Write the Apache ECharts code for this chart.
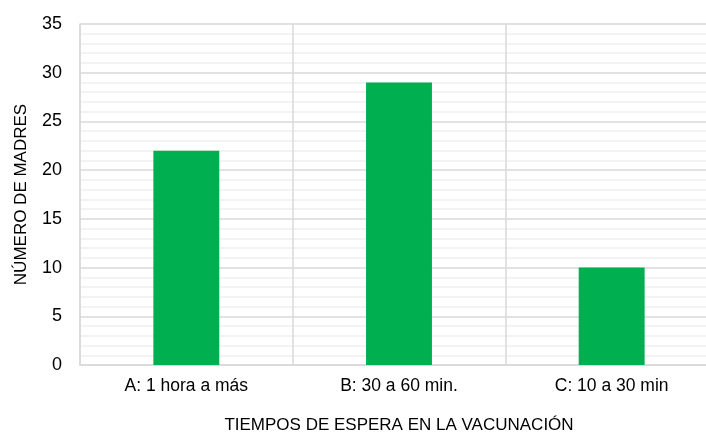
<!DOCTYPE html>
<html>
<head>
<meta charset="utf-8">
<script src="https://cdn.jsdelivr.net/npm/echarts@6/dist/echarts.min.js"></script>
<style>
  html, body { margin: 0; padding: 0; background: #fff; }
  #chart { width: 706px; height: 432px; }
</style>
</head>
<body>
<div id="chart"></div>
<script>
const categorias = ['A: 1 hora a más', 'B: 30 a 60 min.', 'C: 10 a 30 min'];
const madres = [22, 29, 10];

const fuente = '"Liberation Sans", Arial, sans-serif';
const textColor = '#000000';

const chart = echarts.init(document.getElementById('chart'));

const option = {
    animation: false,
    textStyle: { fontFamily: fuente, color: textColor },
    grid: { left: 80, right: -12, top: 24, bottom: 67, outerBoundsMode: 'none' },
    xAxis: {
        type: 'category',
        data: categorias,
        name: 'TIEMPOS DE ESPERA EN LA VACUNACIÓN',
        nameLocation: 'middle',
        nameGap: 52,
        nameTextStyle: { fontSize: 17, fontFamily: fuente, color: textColor },
        axisLine: { show: true, lineStyle: { color: '#d9d9d9', width: 1.5 } },
        axisTick: { show: false },
        axisLabel: { fontSize: 17.5, fontFamily: fuente, color: textColor, margin: 12 },
        splitLine: { show: true, interval: 0, lineStyle: { color: '#d9d9d9', width: 1.5 } }
    },
    yAxis: {
        type: 'value',
        min: 0,
        max: 35,
        interval: 5,
        name: 'NÚMERO DE MADRES',
        nameLocation: 'middle',
        nameGap: 50,
        nameTextStyle: { fontSize: 17, fontFamily: fuente, color: textColor },
        axisLine: { show: true, lineStyle: { color: '#d9d9d9', width: 1.5 } },
        axisTick: { show: false },
        axisLabel: { fontSize: 18, fontFamily: fuente, color: textColor, margin: 18 },
        splitLine: { show: true, lineStyle: { color: '#d9d9d9', width: 1.5 } },
        minorTick: { show: false, splitNumber: 5 },
        minorSplitLine: { show: true, lineStyle: { color: '#f0f0f0', width: 1.5 } }
    },
    series: [{
        type: 'bar',
        data: madres,
        barWidth: '31%',
        itemStyle: { color: '#00b050' }
    }]
};

chart.setOption(option);
chart.resize();
</script>
</body>
</html>
